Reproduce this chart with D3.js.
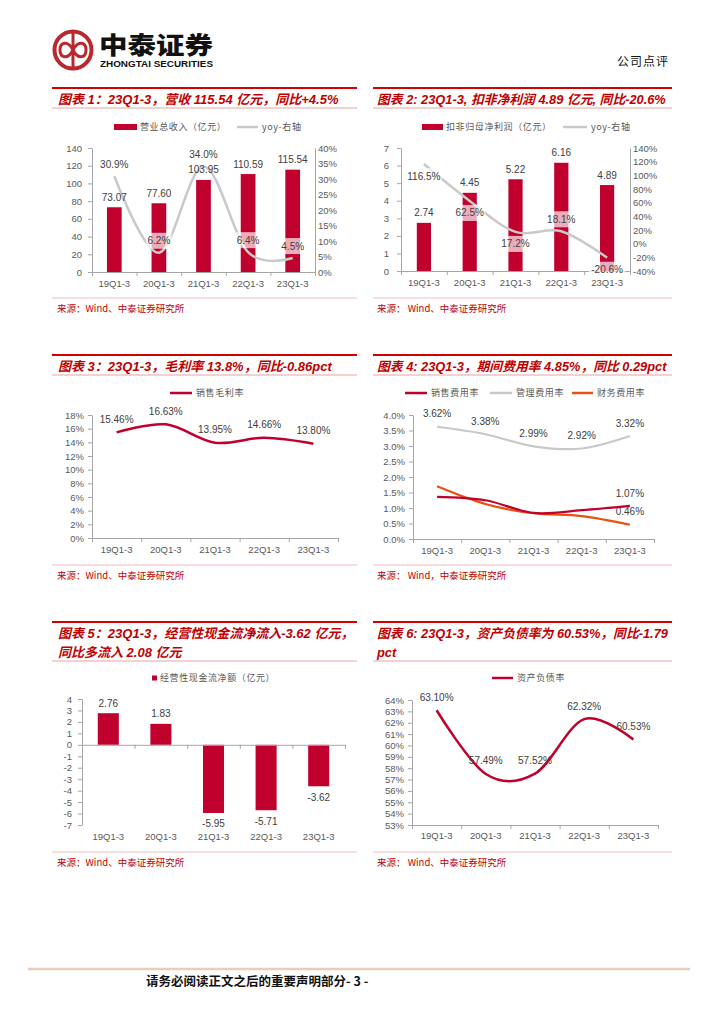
<!DOCTYPE html>
<html><head><meta charset="utf-8">
<script src="https://cdn.jsdelivr.net/npm/d3@7/dist/d3.min.js"></script>
<style>
html,body{margin:0;padding:0;background:#fff;}
svg{display:block;}
</style></head>
<body>
<script>
// ---------------- data ----------------
const categories = ['19Q1-3','20Q1-3','21Q1-3','22Q1-3','23Q1-3'];

const revenue      = [73.07, 77.60, 103.95, 110.59, 115.54];   // 营业总收入（亿元）
const revenueYoy   = [30.9, 6.2, 34.0, 6.4, 4.5];              // %
const revTicks     = [0,20,40,60,80,100,120,140];
const revYoyTicks  = [0,5,10,15,20,25,30,35,40];

const profit       = [2.74, 4.45, 5.22, 6.16, 4.89];           // 扣非归母净利润（亿元）
const profitYoy    = [116.5, 62.5, 17.2, 18.1, -20.6];
const profitTicks  = [0,1,2,3,4,5,6,7];
const profitYoyTicks = [-40,-20,0,20,40,60,80,100,120,140];

const grossMargin  = [15.46, 16.63, 13.95, 14.66, 13.80];      // 销售毛利率 %
const gmTicks      = [0,2,4,6,8,10,12,14,16,18];

const sellRate     = [1.36, 1.25, 0.84, 0.93, 1.07];           // 销售费用率 %
const mgmtRate     = [3.62, 3.38, 2.99, 2.92, 3.32];           // 管理费用率 %
const finRate      = [1.70, 1.13, 0.83, 0.74, 0.46];           // 财务费用率 %
const expTicks     = [0,0.5,1,1.5,2,2.5,3,3.5,4];

const cashFlow     = [2.76, 1.83, -5.95, -5.71, -3.62];        // 经营性现金流净额（亿元）
const cfTicks      = [-7,-6,-5,-4,-3,-2,-1,0,1,2,3,4];

const debtRatio    = [63.10, 57.49, 57.52, 62.32, 60.53];      // 资产负债率 %
const drTicks      = [53,54,55,56,57,58,59,60,61,62,63,64];

// ---------------- styles ----------------
const W = 724, H = 1024;
const RED = '#C0002D', TITLE_RED = '#C00000', GRAY_LINE = '#C9C9C9', ORANGE = '#EA5010';
const AXIS = '#A6A6A6', TXT = '#595959', LBL = '#404040';
const FONT = '"Liberation Sans", Arial, "Noto Sans CJK SC", sans-serif';
const CJK = '"Noto Sans CJK SC", "Liberation Sans", sans-serif';

const svg = d3.select('body').append('svg').attr('width', W).attr('height', H)
  .attr('viewBox', `0 0 ${W} ${H}`);

// ---------------- header ----------------
const hdr = svg.append('g');
hdr.append('circle').attr('cx', 73).attr('cy', 50).attr('r', 18.5)
  .attr('fill', 'none').attr('stroke', '#B8282E').attr('stroke-width', 4);
hdr.append('line').attr('x1', 73).attr('x2', 73).attr('y1', 33).attr('y2', 67)
  .attr('stroke', '#B8282E').attr('stroke-width', 3);
hdr.append('path')
  .attr('d', 'M73,50 C68,40 60,42 60,50 C60,58 68,60 73,50 C78,40 86,42 86,50 C86,58 78,60 73,50 Z')
  .attr('fill', 'none').attr('stroke', '#B8282E').attr('stroke-width', 3);
hdr.append('text').attr('x', 99).attr('y', 54).text('中泰证券')
  .attr('font-family', CJK).attr('font-weight', 900).attr('font-size', 24)
  .attr('textLength', 114).attr('lengthAdjust', 'spacingAndGlyphs').attr('fill', '#111');
hdr.append('text').attr('x', 100).attr('y', 67).text('ZHONGTAI SECURITIES')
  .attr('font-family', FONT).attr('font-weight', 'bold').attr('font-size', 8.4)
  .attr('textLength', 113).attr('lengthAdjust', 'spacingAndGlyphs').attr('fill', '#111');
hdr.append('text').attr('x', 617).attr('y', 66).text('公司点评')
  .attr('font-family', CJK).attr('font-size', 12).attr('fill', '#111')
  .attr('textLength', 51);

// ---------------- helpers ----------------
const LEFT = [52, 357], RIGHT = [373, 672];

function panelTitle(span, top, lines, tx, size) {
  const g = svg.append('g');
  g.append('line').attr('x1', span[0]).attr('x2', span[1]).attr('y1', top).attr('y2', top)
    .attr('stroke', '#D40000').attr('stroke-width', 2);
  lines.forEach((t, i) => {
    g.append('text').attr('x', tx).attr('y', top + 15.5 + i * 19).text(t)
      .attr('font-family', FONT).attr('font-weight', 'bold').attr('font-style', 'italic')
      .attr('font-size', size || 13).attr('fill', TITLE_RED);
  });
  const ty = top + 20 + (lines.length - 1) * 19;
  g.append('line').attr('x1', span[0]).attr('x2', span[1]).attr('y1', ty).attr('y2', ty)
    .attr('stroke', '#E8A3A3').attr('stroke-width', 1);
}

function source(span, y, tx, text) {
  svg.append('line').attr('x1', span[0]).attr('x2', span[1]).attr('y1', y).attr('y2', y)
    .attr('stroke', '#F2BFBF').attr('stroke-width', 1);
  svg.append('text').attr('x', tx).attr('y', y + 13.5).text(text)
    .attr('font-family', CJK).attr('font-size', 9.5).attr('fill', TITLE_RED);
}

function legendText(x, y, t) {
  svg.append('text').attr('x', x).attr('y', y + 3.3).text(t)
    .attr('font-family', CJK).attr('font-size', 9).attr('letter-spacing', 0.6).attr('fill', TXT);
}
function legendRect(x, y, w, h, t) {
  svg.append('rect').attr('x', x).attr('y', y - h / 2).attr('width', w).attr('height', h).attr('fill', RED);
  legendText(x + w + 3, y, t);
}
function legendLine(x1, x2, y, color, t) {
  svg.append('line').attr('x1', x1).attr('x2', x2).attr('y1', y).attr('y2', y)
    .attr('stroke', color).attr('stroke-width', 2.5);
  legendText(x2 + 4, y, t);
}

function styleAxis(g) {
  g.attr('font-family', FONT).attr('font-size', 9.5);
  g.select('.domain').attr('stroke', AXIS);
  g.selectAll('.tick line').attr('stroke', AXIS);
  g.selectAll('.tick text').attr('fill', TXT);
}

function leftAxis(scale, x, ticks, fmt, pad) {
  const g = svg.append('g').attr('transform', `translate(${x},0)`)
    .call(d3.axisLeft(scale).tickValues(ticks).tickFormat(fmt).tickSize(4).tickPadding(pad).tickSizeOuter(0));
  styleAxis(g);
  return g;
}
function rightAxis(scale, x, ticks, fmt) {
  const g = svg.append('g').attr('transform', `translate(${x},0)`)
    .call(d3.axisRight(scale).tickValues(ticks).tickFormat(fmt).tickSize(-4).tickPadding(3).tickSizeOuter(0));
  styleAxis(g);
  g.selectAll('.tick line').attr('x2', 0);
  return g;
}
// category axis: line + boundary ticks at axisY, labels at labelY
function catAxis(band, x0, x1, axisY, labelY) {
  const edge = d3.scaleLinear().domain([0, categories.length]).range([x0, x1]);
  const g = svg.append('g').attr('transform', `translate(0,${axisY})`)
    .call(d3.axisBottom(edge).tickValues(d3.range(categories.length + 1)).tickFormat('').tickSize(4).tickSizeOuter(0));
  styleAxis(g);
  const gl = svg.append('g').attr('transform', `translate(0,${labelY})`)
    .call(d3.axisBottom(band).tickSize(0).tickPadding(0));
  styleAxis(gl);
  gl.select('.domain').remove();
  gl.selectAll('.tick text').attr('dy', '0.35em');
}

function valueLabel(x, y, t, box) {
  if (box) {
    const w = t.length * 5.4 + 4;
    svg.append('rect').attr('x', x - w / 2).attr('y', y - 8).attr('width', w).attr('height', 16)
      .attr('fill', '#fff').attr('fill-opacity', 0.68);
  }
  svg.append('text').attr('x', x).attr('y', y).attr('dy', '0.35em').attr('text-anchor', 'middle')
    .text(t).attr('font-family', FONT).attr('font-size', 10).attr('fill', LBL);
}

const smooth = d3.curveCardinal.tension(0);
const plain = d => String(d);

// ================= Chart 1 =================
panelTitle(LEFT, 88, ['图表 1：23Q1-3，营收 115.54 亿元，同比+4.5%'], 58);
legendRect(114, 127, 23, 6, '营业总收入（亿元）');
legendLine(237, 258, 127, GRAY_LINE, 'yoy-右轴');
{
  const x0 = 92, x1 = 315, yT = 148, yB = 272;
  const band = d3.scaleBand().domain(categories).range([x0, x1]).paddingInner(0.67).paddingOuter(0.335);
  const y = d3.scaleLinear().domain([0, 140]).range([yB, yT]);
  const y2 = d3.scaleLinear().domain([0, 40]).range([yB, yT]);
  leftAxis(y, x0, revTicks, plain, 6);
  rightAxis(y2, x1, revYoyTicks, d => d + '%');
  svg.append('g').selectAll('rect').data(revenue).join('rect')
    .attr('x', (d, i) => band(categories[i])).attr('width', band.bandwidth())
    .attr('y', d => y(d)).attr('height', d => yB - y(d)).attr('fill', RED);
  catAxis(band, x0, x1, yB, yB + 12);
  const cx = i => band(categories[i]) + band.bandwidth() / 2;
  const line = d3.line().x((d, i) => cx(i)).y(d => y2(d)).curve(smooth);
  svg.append('path').attr('d', line(revenueYoy)).attr('fill', 'none')
    .attr('stroke', GRAY_LINE).attr('stroke-width', 2.5);
  revenue.forEach((d, i) => valueLabel(cx(i), y(d) - 10, d.toFixed(2)));
  revenueYoy.forEach((d, i) => valueLabel(cx(i), y2(d) - 12, d.toFixed(1) + '%', true));
}
source(LEFT, 298, 57, '来源：Wind、中泰证券研究所');

// ================= Chart 2 =================
panelTitle(RIGHT, 88, ['图表 2: 23Q1-3, 扣非净利润 4.89 亿元, 同比-20.6%'], 377, 12.8);
legendRect(422, 127, 21, 6, '扣非归母净利润（亿元）');
legendLine(563, 587, 127, GRAY_LINE, 'yoy-右轴');
{
  const x0 = 401, x1 = 630, yT = 148, yB = 271;
  const band = d3.scaleBand().domain(categories).range([x0, x1]).paddingInner(0.69).paddingOuter(0.345);
  const y = d3.scaleLinear().domain([0, 7]).range([yB, yT]);
  const y2 = d3.scaleLinear().domain([-40, 140]).range([yB, yT]);
  leftAxis(y, x0, profitTicks, plain, 8);
  rightAxis(y2, x1, profitYoyTicks, d => d + '%');
  svg.append('g').selectAll('rect').data(profit).join('rect')
    .attr('x', (d, i) => band(categories[i])).attr('width', band.bandwidth())
    .attr('y', d => y(d)).attr('height', d => yB - y(d)).attr('fill', RED);
  catAxis(band, x0, x1, yB, yB + 12);
  const cx = i => band(categories[i]) + band.bandwidth() / 2;
  const line = d3.line().x((d, i) => cx(i)).y(d => y2(d)).curve(smooth);
  svg.append('path').attr('d', line(profitYoy)).attr('fill', 'none')
    .attr('stroke', GRAY_LINE).attr('stroke-width', 2.5);
  profit.forEach((d, i) => valueLabel(cx(i), y(d) - 10, d.toFixed(2)));
  const below = [true, true, true, false, true];
  profitYoy.forEach((d, i) => valueLabel(cx(i), y2(d) + (below[i] ? 12 : -12), d.toFixed(1) + '%', true));
}
source(RIGHT, 298, 377, '来源：  Wind、中泰证券研究所');

// ================= Chart 3 =================
panelTitle(LEFT, 355, ['图表 3：23Q1-3，毛利率 13.8%，同比-0.86pct'], 58);
legendLine(170, 192, 393, RED, '销售毛利率');
{
  const x0 = 92, x1 = 338, yT = 415, yB = 538;
  const band = d3.scaleBand().domain(categories).range([x0, x1]).padding(0);
  const y = d3.scaleLinear().domain([0, 18]).range([yB, yT]);
  leftAxis(y, x0, gmTicks, d => d + '%', 4);
  catAxis(band, x0, x1, yB, yB + 12);
  const cx = i => band(categories[i]) + band.bandwidth() / 2;
  const line = d3.line().x((d, i) => cx(i)).y(d => y(d)).curve(smooth);
  svg.append('path').attr('d', line(grossMargin)).attr('fill', 'none')
    .attr('stroke', RED).attr('stroke-width', 2.5);
  grossMargin.forEach((d, i) => valueLabel(cx(i), y(d) - 13, d.toFixed(2) + '%'));
}
source(LEFT, 565, 57, '来源：Wind、中泰证券研究所');

// ================= Chart 4 =================
panelTitle(RIGHT, 355, ['图表 4: 23Q1-3，期间费用率 4.85%，同比 0.29pct'], 377, 12.8);
legendLine(405, 427, 393, RED, '销售费用率');
legendLine(490, 512, 393, GRAY_LINE, '管理费用率');
legendLine(572, 593, 393, ORANGE, '财务费用率');
{
  const x0 = 413, x1 = 654, yT = 415, yB = 539;
  const band = d3.scaleBand().domain(categories).range([x0, x1]).padding(0);
  const y = d3.scaleLinear().domain([0, 4]).range([yB, yT]);
  leftAxis(y, x0, expTicks, d => d.toFixed(1) + '%', 4);
  catAxis(band, x0, x1, yB, yB + 12);
  const cx = i => band(categories[i]) + band.bandwidth() / 2;
  const line = d3.line().x((d, i) => cx(i)).y(d => y(d)).curve(smooth);
  [[mgmtRate, GRAY_LINE], [finRate, ORANGE], [sellRate, RED]].forEach(([s, c]) => {
    svg.append('path').attr('d', line(s)).attr('fill', 'none').attr('stroke', c).attr('stroke-width', 2.2);
  });
  mgmtRate.forEach((d, i) => valueLabel(cx(i), y(d) - 13, d.toFixed(2) + '%'));
  const last = categories.length - 1;
  valueLabel(cx(last), y(sellRate[last]) - 12, sellRate[last].toFixed(2) + '%');
  valueLabel(cx(last), y(finRate[last]) - 13, finRate[last].toFixed(2) + '%');
}
source(RIGHT, 565, 377, '来源：  Wind，中泰证券研究所');

// ================= Chart 5 =================
panelTitle(LEFT, 622, ['图表 5：23Q1-3，经营性现金流净流入-3.62 亿元，', '同比多流入 2.08 亿元'], 58);
svg.append('rect').attr('x', 152).attr('y', 675.5).attr('width', 5).attr('height', 5).attr('fill', RED);
legendText(160, 678, '经营性现金流净额（亿元）');
{
  const x0 = 82, x1 = 345, yT = 699, yB = 825;
  const band = d3.scaleBand().domain(categories).range([x0, x1]).paddingInner(0.6).paddingOuter(0.3);
  const y = d3.scaleLinear().domain([-7, 4]).range([yB, yT]);
  leftAxis(y, x0, cfTicks, plain, 6);
  svg.append('g').selectAll('rect').data(cashFlow).join('rect')
    .attr('x', (d, i) => band(categories[i])).attr('width', band.bandwidth())
    .attr('y', d => y(Math.max(0, d))).attr('height', d => Math.abs(y(d) - y(0))).attr('fill', RED);
  catAxis(band, x0, x1, y(0), yB + 12);
  const cx = i => band(categories[i]) + band.bandwidth() / 2;
  cashFlow.forEach((d, i) => valueLabel(cx(i), y(d) + (d >= 0 ? -10 : 11), d.toFixed(2)));
}
source(LEFT, 852, 57, '来源：Wind、中泰证券研究所');

// ================= Chart 6 =================
panelTitle(RIGHT, 622, ['图表 6: 23Q1-3，资产负债率为 60.53%，同比-1.79', 'pct'], 377, 12.8);
legendLine(492, 513, 678, RED, '资产负债率');
{
  const x0 = 412, x1 = 658, yT = 700, yB = 825;
  const band = d3.scaleBand().domain(categories).range([x0, x1]).padding(0);
  const y = d3.scaleLinear().domain([53, 64]).range([yB, yT]);
  leftAxis(y, x0, drTicks, d => d + '%', 4);
  catAxis(band, x0, x1, yB, yB + 11);
  const cx = i => band(categories[i]) + band.bandwidth() / 2;
  const line = d3.line().x((d, i) => cx(i)).y(d => y(d)).curve(smooth);
  svg.append('path').attr('d', line(debtRatio)).attr('fill', 'none')
    .attr('stroke', RED).attr('stroke-width', 2.5);
  debtRatio.forEach((d, i) => valueLabel(cx(i), y(d) - 13, d.toFixed(2) + '%'));
}
source(RIGHT, 852, 377, '来源：  Wind、中泰证券研究所');

// ---------------- footer ----------------
svg.append('line').attr('x1', 28).attr('x2', 690).attr('y1', 969).attr('y2', 969)
  .attr('stroke', '#EBCBB9').attr('stroke-width', 2.5);
svg.append('text').attr('x', 146).attr('y', 986).text('请务必阅读正文之后的重要声明部分- 3 -')
  .attr('font-family', CJK).attr('font-weight', 'bold').attr('font-size', 12.5).attr('fill', '#111');
</script>
</body></html>
